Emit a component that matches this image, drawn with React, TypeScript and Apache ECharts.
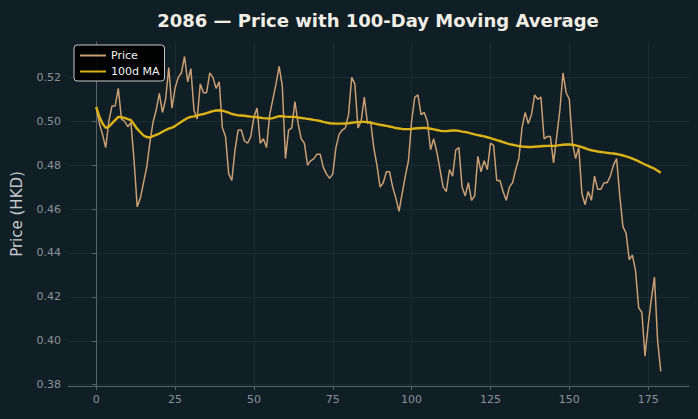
import React, { useEffect, useRef } from "react";
import * as echarts from "echarts";

const titleText = "2086 — Price with 100-Day Moving Average";
const yAxisName = "Price (HKD)";
const seriesNames = ["Price", "100d MA"];
const xTicks = [0, 25, 50, 75, 100, 125, 150, 175];
const yTicks = [0.38, 0.4, 0.42, 0.44, 0.46, 0.48, 0.5, 0.52];

const price = [
  0.506, 0.499, 0.494, 0.488, 0.5, 0.507, 0.507, 0.515, 0.501, 0.5,
  0.4975, 0.4995, 0.482, 0.461, 0.465, 0.472, 0.479, 0.49, 0.4995, 0.505,
  0.5127, 0.504, 0.51, 0.5245, 0.506, 0.515, 0.52, 0.522, 0.5295, 0.518,
  0.524, 0.505, 0.501, 0.517, 0.513, 0.513, 0.522, 0.52, 0.515, 0.518,
  0.497, 0.493, 0.476, 0.473, 0.487, 0.496, 0.496, 0.491, 0.49, 0.493,
  0.502, 0.506, 0.49, 0.492, 0.488, 0.503, 0.51, 0.517, 0.525, 0.516,
  0.483, 0.496, 0.497, 0.509, 0.499, 0.492, 0.49, 0.48, 0.482, 0.483,
  0.485, 0.485, 0.479, 0.476, 0.474, 0.476, 0.488, 0.494, 0.496, 0.497,
  0.503, 0.52, 0.517, 0.497, 0.5, 0.511, 0.499, 0.5, 0.488, 0.48,
  0.47, 0.472, 0.477, 0.477, 0.47, 0.465, 0.459, 0.467, 0.475, 0.482,
  0.5, 0.511, 0.512, 0.503, 0.504, 0.5, 0.487, 0.492, 0.486, 0.478,
  0.47, 0.468, 0.478, 0.475, 0.487, 0.488, 0.47, 0.466, 0.472, 0.464,
  0.466, 0.484, 0.477, 0.482, 0.478, 0.49, 0.489, 0.473, 0.473, 0.468,
  0.464, 0.47, 0.472, 0.478, 0.483, 0.497, 0.504, 0.499, 0.503, 0.512,
  0.51, 0.511, 0.492, 0.493, 0.493, 0.481, 0.493, 0.505, 0.522, 0.513,
  0.51, 0.49, 0.483, 0.488, 0.467, 0.462, 0.468, 0.464, 0.475, 0.469,
  0.469, 0.472, 0.472, 0.475, 0.48, 0.483, 0.466, 0.452, 0.449, 0.437,
  0.439, 0.432, 0.415, 0.413, 0.393, 0.407, 0.419, 0.429, 0.4, 0.386,
];

const ma100 = [
  0.5065, 0.502, 0.499, 0.497, 0.4975, 0.499, 0.5005, 0.502, 0.5018, 0.5015,
  0.501, 0.5005, 0.4985, 0.4965, 0.495, 0.4935, 0.4928, 0.4926, 0.4932, 0.4938,
  0.4944, 0.4952, 0.496, 0.4966, 0.4971, 0.4978, 0.4988, 0.4998, 0.5007, 0.5015,
  0.502, 0.5022, 0.5026, 0.503, 0.5033, 0.5037, 0.5042, 0.5046, 0.5049, 0.505,
  0.5048, 0.5044, 0.5039, 0.5033, 0.503, 0.5027, 0.5026, 0.5025, 0.5023, 0.5021,
  0.502, 0.5018, 0.5016, 0.5014, 0.5013, 0.5012, 0.5014, 0.5019, 0.5023, 0.5023,
  0.5021, 0.502, 0.502, 0.502, 0.5017, 0.5015, 0.5013, 0.5011, 0.5009, 0.5006,
  0.5004, 0.5001, 0.4997, 0.4994, 0.4991, 0.499, 0.4989, 0.4989, 0.4989, 0.499,
  0.4991, 0.4993, 0.4995, 0.4996, 0.4997, 0.4997, 0.4996, 0.4993, 0.499, 0.4987,
  0.4984, 0.4982, 0.4979, 0.4976, 0.4973, 0.4969, 0.4967, 0.4965, 0.4964, 0.4964,
  0.4965, 0.4967, 0.4968, 0.4969, 0.4969, 0.4968, 0.4966, 0.4963, 0.496, 0.4957,
  0.4955, 0.4955, 0.4957, 0.4958, 0.4958, 0.4956, 0.4953, 0.4951, 0.4948, 0.4944,
  0.494, 0.4937, 0.4934, 0.4931, 0.4927, 0.4923, 0.4919, 0.4914, 0.491, 0.4905,
  0.49, 0.4896, 0.4893, 0.489, 0.4887, 0.4885, 0.4884, 0.4883, 0.4883, 0.4884,
  0.4885, 0.4886, 0.4887, 0.4888, 0.4888, 0.4888, 0.4889, 0.4891, 0.4893, 0.4894,
  0.4894, 0.4893, 0.489, 0.4887, 0.4882, 0.4877, 0.4872, 0.4868, 0.4865, 0.4862,
  0.486, 0.4858, 0.4856, 0.4854, 0.4853, 0.4851, 0.4848, 0.4844, 0.484, 0.4835,
  0.483, 0.4824, 0.4817, 0.481, 0.4803, 0.4797, 0.479, 0.4784, 0.4775, 0.4765,
];

const BG = "#101f26";
const PRICE_COLOR = "#c99f73";
const MA_COLOR = "#dcb317";
const FONT = "DejaVu Sans";

export default function App() {
  const ref = useRef<HTMLDivElement>(null);
  useEffect(() => {
    if (!ref.current) return;
    const chart = echarts.init(ref.current, null, { renderer: "svg" });
    const priceData = price.map((v, i) => [i, v]);
    const maData = ma100.map((v, i) => [i, v]);
    chart.setOption({
      animation: false,
      backgroundColor: BG,
      textStyle: { fontFamily: FONT },
      title: {
        text: titleText,
        left: 373,
        top: 6,
        textAlign: "center",
        textStyle: { color: "#f2eee6", fontSize: 18, fontWeight: "bold", fontFamily: FONT },
      },
      legend: {
        orient: "vertical",
        left: 74,
        top: 45,
        backgroundColor: "rgba(0,0,0,0.9)",
        borderColor: "#c8c8c8",
        borderWidth: 1,
        borderRadius: 3,
        padding: [5, 5, 4, 6],
        itemGap: 5,
        itemWidth: 26,
        itemHeight: 2,
        textStyle: { color: "#f0f0f0", fontSize: 11, fontFamily: FONT },
        data: [
          { name: seriesNames[0], icon: "rect", itemStyle: { color: PRICE_COLOR } },
          { name: seriesNames[1], icon: "rect", itemStyle: { color: MA_COLOR } },
        ],
      },
      grid: { left: 68, right: 9, top: 42, bottom: 33 },
      xAxis: {
        type: "value",
        min: -8.95,
        max: 187.95,
        axisLine: { show: true, lineStyle: { color: "#5a6367", width: 1 } },
        axisTick: { show: true, length: 4, lineStyle: { color: "#5a6367" }, customValues: xTicks },
        axisLabel: {
          color: "#8a9298",
          fontSize: 11,
          margin: 8,
          fontFamily: FONT,
          customValues: xTicks,
          formatter: (v: number) => String(Math.round(v)),
        },
        splitLine: { show: true, lineStyle: { color: "#1b2b32", width: 1 } },
      },
      yAxis: {
        type: "value",
        min: 0.3794,
        max: 0.5361,
        name: yAxisName,
        nameLocation: "middle",
        nameGap: 44,
        nameTextStyle: { color: "#c5c9cc", fontSize: 15, fontFamily: FONT },
        axisLine: { show: true, lineStyle: { color: "#5a6367", width: 1 } },
        axisTick: { show: true, length: 4, lineStyle: { color: "#5a6367" }, customValues: yTicks },
        axisLabel: {
          color: "#8a9298",
          fontSize: 11,
          margin: 7,
          fontFamily: FONT,
          customValues: yTicks,
          formatter: (v: number) => v.toFixed(2),
        },
        splitLine: { show: true, lineStyle: { color: "#1b2b32", width: 1 } },
      },
      series: [
        {
          name: seriesNames[0],
          type: "line",
          data: priceData,
          symbol: "none",
          lineStyle: { color: PRICE_COLOR, width: 1.5 },
          itemStyle: { color: PRICE_COLOR },
          z: 2,
        },
        {
          name: seriesNames[1],
          type: "line",
          data: maData,
          symbol: "none",
          lineStyle: { color: MA_COLOR, width: 2.4 },
          itemStyle: { color: MA_COLOR },
          z: 3,
        },
      ],
    });
    return () => chart.dispose();
  }, []);
  return <div ref={ref} style={{ width: 698, height: 419, position: "fixed", left: 0, top: 0 }} />;
}
